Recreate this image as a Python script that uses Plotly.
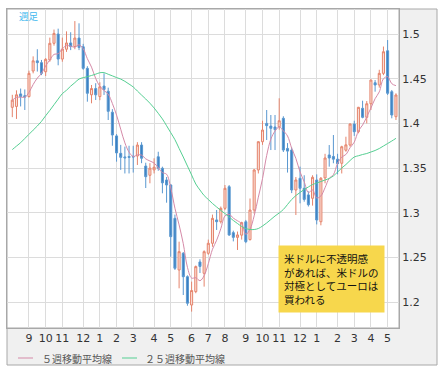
import pandas as pd
import plotly.graph_objects as go

# weekly EUR/USD candles, first week = 2009-08-10 (Mondays)
opens = [1.4180,1.4190,1.4330,1.4310,1.4300,1.4586,1.4700,1.4680,1.4578,1.4710,
         1.4896,1.5000,1.4720,1.4830,1.4900,1.4860,1.4955,1.4858,1.4616,1.4320,
         1.4390,1.4300,1.4418,1.4360,1.4125,1.3860,1.3665,1.3625,1.3630,1.3630,
         1.3635,1.3758,1.3523,1.3420,1.3480,1.3627,1.3498,1.3367,1.3311,1.2938,
         1.2360,1.2547,1.2285,1.1968,1.2118,1.2450,1.2323,1.2547,1.2659,1.2920,
         1.2900,1.3050,1.3292,1.2778,1.2725,1.2750,1.2900,1.2700,1.3031,1.3479,
         1.3795,1.4000,1.3970,1.3960,1.3963,1.4057,1.3720,1.3702,1.3255,1.3386,
         1.3274,1.3200,1.3162,1.3367,1.2900,1.3390,1.3647,1.3630,1.3600,1.3554,
         1.3700,1.3758,1.3993,1.3907,1.4169,1.4068,1.4220,1.4455,1.4430,1.4560,
         1.4813,1.4355,1.4075]
highs = [1.4320,1.4370,1.4390,1.4380,1.4590,1.4750,1.4830,1.4710,1.4730,1.4960,
         1.5050,1.5060,1.4960,1.5030,1.5020,1.5145,1.5120,1.4890,1.4640,1.4430,
         1.4450,1.4460,1.4560,1.4400,1.4160,1.3880,1.3760,1.3740,1.3750,1.3750,
         1.3790,1.3790,1.3560,1.3555,1.3610,1.3683,1.3516,1.3400,1.3320,1.2980,
         1.2677,1.2560,1.2300,1.2230,1.2410,1.2480,1.2580,1.2700,1.2980,1.3031,
         1.3070,1.3311,1.3310,1.2800,1.2790,1.2900,1.2920,1.3160,1.3490,1.3800,
         1.4030,1.4150,1.4094,1.4094,1.4281,1.4080,1.3780,1.3730,1.3400,1.3516,
         1.3420,1.3240,1.3420,1.3430,1.3400,1.3660,1.3758,1.3870,1.3660,1.3750,
         1.3851,1.4000,1.4030,1.4185,1.4254,1.4250,1.4490,1.4485,1.4600,1.4860,
         1.4933,1.4374,1.4337]
lows = [1.4070,1.4050,1.4190,1.4150,1.4290,1.4560,1.4580,1.4540,1.4530,1.4690,
        1.4870,1.4650,1.4690,1.4800,1.4820,1.4830,1.4820,1.4600,1.4243,1.4225,
        1.4262,1.4260,1.4318,1.4038,1.3750,1.3572,1.3480,1.3440,1.3440,1.3450,
        1.3535,1.3555,1.3277,1.3330,1.3440,1.3470,1.3218,1.3113,1.2508,1.2360,
        1.2155,1.2080,1.1960,1.1894,1.2100,1.2326,1.2174,1.2530,1.2620,1.2808,
        1.2880,1.3030,1.2740,1.2680,1.2584,1.2700,1.2660,1.2690,1.2990,1.3440,
        1.3760,1.3814,1.3702,1.3702,1.3930,1.3680,1.3450,1.3220,1.2975,1.3106,
        1.3124,1.3070,1.3080,1.2870,1.2860,1.3330,1.3516,1.3554,1.3430,1.3440,
        1.3683,1.3740,1.3860,1.3889,1.4057,1.4000,1.4150,1.4355,1.4400,1.4540,
        1.4318,1.4057,1.4038]
closes = [1.4260,1.4320,1.4300,1.4295,1.4560,1.4700,1.4680,1.4560,1.4717,1.4896,
          1.5007,1.4720,1.4832,1.4900,1.4860,1.4955,1.4850,1.4616,1.4337,1.4390,
          1.4320,1.4410,1.4380,1.4135,1.3870,1.3670,1.3620,1.3615,1.3620,1.3625,
          1.3758,1.3610,1.3404,1.3500,1.3510,1.3498,1.3335,1.3311,1.2733,1.2379,
          1.2565,1.2285,1.1988,1.2130,1.2398,1.2400,1.2565,1.2659,1.2938,1.2900,
          1.3050,1.3274,1.2752,1.2725,1.2752,1.2890,1.2677,1.3031,1.3479,1.3795,
          1.3926,1.3975,1.3945,1.3930,1.4030,1.3702,1.3690,1.3255,1.3367,1.3274,
          1.3150,1.3090,1.3397,1.2919,1.3386,1.3613,1.3613,1.3600,1.3550,1.3739,
          1.3760,1.3993,1.3907,1.4180,1.4068,1.4220,1.4485,1.4430,1.4560,1.4802,
          1.4337,1.4094,1.4318]
# 25-week moving average as drawn in the chart
ma25 = [1.3707,1.3746,1.3784,1.3831,1.3878,1.3925,1.3971,1.4023,1.4086,1.4146,
        1.4209,1.4272,1.4333,1.4371,1.4417,1.4456,1.4496,1.4512,1.4523,1.4536,
        1.4551,1.4567,1.4568,1.4550,1.4532,1.4513,1.4496,1.4471,1.4440,1.4408,
        1.4362,1.4317,1.4273,1.4226,1.4173,1.4113,1.4050,1.3974,1.3896,1.3818,
        1.3720,1.3624,1.3523,1.3423,1.3322,1.3255,1.3193,1.3149,1.3104,1.3065,
        1.3026,1.2992,1.2953,1.2914,1.2880,1.2847,1.2824,1.2813,1.2813,1.2824,
        1.2852,1.2886,1.2925,1.2964,1.2998,1.3037,1.3093,1.3149,1.3193,1.3227,
        1.3261,1.3289,1.3316,1.3333,1.3350,1.3367,1.3384,1.3412,1.3456,1.3501,
        1.3540,1.3585,1.3624,1.3638,1.3652,1.3663,1.3680,1.3697,1.3719,1.3747,
        1.3775,1.3803,1.3833]

y_ticks = [1.2, 1.25, 1.3, 1.35, 1.4, 1.45, 1.5]
y_labels = ["1.2", "1.25", "1.3", "1.35", "1.4", "1.45", "1.5"]
legend_names = ["５週移動平均線", "２５週移動平均線"]
note_text = "米ドルに不透明感<br>があれば、米ドルの<br>対極としてユーロは<br>買われる"

weeks = pd.date_range("2009-08-10", periods=len(closes), freq="W-MON")
x = [d.strftime("%Y-%m-%d") for d in weeks]
ma5 = pd.Series(closes).rolling(5, min_periods=1).mean().tolist()

tickvals, ticktext = [], []
prev_month = weeks[0].month
for d, s in zip(weeks, x):
    if d.month != prev_month:
        tickvals.append(s)
        ticktext.append(str(d.month))
    prev_month = d.month

C_MA5 = "#d58aa8"
C_MA25 = "#55cf92"

fig = go.Figure()
fig.add_trace(go.Candlestick(
    x=x, open=opens, high=highs, low=lows, close=closes,
    increasing=dict(line=dict(color="#e5846c", width=1), fillcolor="#fbe1d9"),
    decreasing=dict(line=dict(color="#5a98d0", width=1), fillcolor="#3a80c2"),
    whiskerwidth=0, showlegend=False, hoverinfo="skip"))
fig.add_trace(go.Scatter(x=x, y=ma5, mode="lines", line=dict(color=C_MA5, width=1, shape="spline"),
                         showlegend=False, hoverinfo="skip"))
fig.add_trace(go.Scatter(x=x, y=ma25, mode="lines", line=dict(color=C_MA25, width=1, shape="spline"),
                         showlegend=False, hoverinfo="skip"))

W, PL, PR, PT, PB = 445, 7, 399, 9, 328
pw, ph = PR - PL, PB - PT
def px(v): return (v - PL) / pw
def py(v): return (PB - v) / ph

shapes = [
    dict(type="rect", xref="paper", yref="paper", x0=px(7), x1=px(437), y0=py(365), y1=py(9),
         fillcolor="#f0f0f0", line=dict(color="#a8a8a8", width=1), layer="below"),
    dict(type="rect", xref="paper", yref="paper", x0=0, x1=1, y0=0, y1=1,
         fillcolor="white", line=dict(color="#a8a8a8", width=1), layer="below"),
    dict(type="line", xref="paper", yref="paper", x0=px(18), x1=px(33), y0=py(358), y1=py(358),
         line=dict(color=C_MA5, width=1)),
    dict(type="line", xref="paper", yref="paper", x0=px(122), x1=px(137), y0=py(358), y1=py(358),
         line=dict(color=C_MA25, width=1)),
]

annotations = [
    dict(xref="paper", yref="paper", x=px(40), y=py(358), xanchor="left", yanchor="middle",
         text=legend_names[0], showarrow=False,
         font=dict(family="Noto Sans CJK JP", size=10, color="#555555")),
    dict(xref="paper", yref="paper", x=px(143), y=py(358), xanchor="left", yanchor="middle",
         text=legend_names[1], showarrow=False,
         font=dict(family="Noto Sans CJK JP", size=10, color="#555555")),
    dict(xref="paper", yref="paper", x=px(17), y=py(15.5), xanchor="left", yanchor="middle",
         text="週足", showarrow=False,
         font=dict(family="Noto Sans CJK JP", size=9.5, color="#3fb8ee")),
    dict(xref="paper", yref="paper", x=px(278), y=py(245), xanchor="left", yanchor="top",
         text=note_text, showarrow=False, align="left",
         bgcolor="#f7d74c", borderpad=5,
         font=dict(family="Noto Sans CJK JP", size=10.5, color="#111111")),
]

fig.update_layout(
    width=W, height=375,
    margin=dict(l=PL, r=W - PR, t=PT, b=375 - PB),
    paper_bgcolor="white", plot_bgcolor="white",
    showlegend=False,
    shapes=shapes, annotations=annotations,
    xaxis=dict(type="category", range=[-1.27, 92.73], rangeslider=dict(visible=False),
               tickmode="array", tickvals=tickvals, ticktext=ticktext,
               showgrid=True, gridcolor="#dcdcdc", gridwidth=1, ticks="", ticklen=0,
               showline=True, linecolor="#a8a8a8", mirror=True,
               tickfont=dict(family="DejaVu Sans", size=11, color="#333333")),
    yaxis=dict(side="right", range=[1.1711, 1.5280], tickmode="array",
               tickvals=y_ticks, ticktext=y_labels,
               showgrid=True, gridcolor="#dcdcdc", gridwidth=1, ticks="", ticklen=0,
               zeroline=False, showline=True, linecolor="#a8a8a8", mirror=True,
               tickfont=dict(family="DejaVu Sans", size=11, color="#333333")),
)

fig.write_html("out.html", config={"displayModeBar": False, "staticPlot": True},
               post_script="document.body.style.margin='0';")
